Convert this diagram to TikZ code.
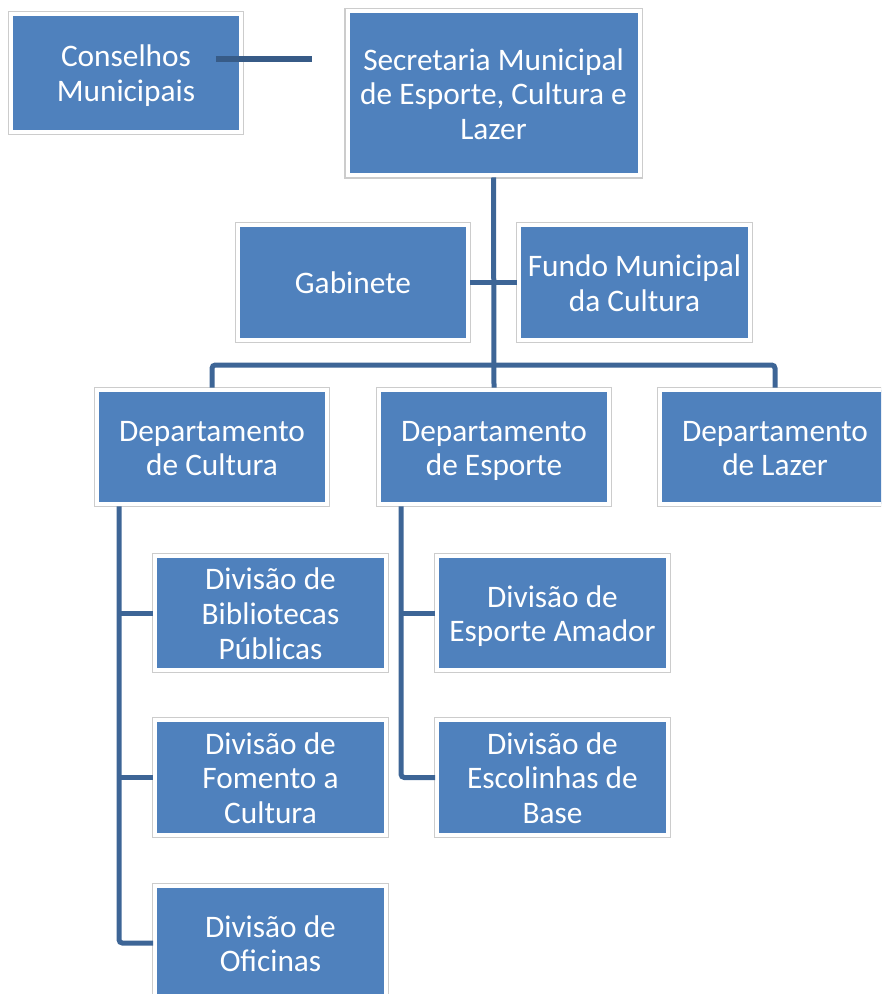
\documentclass[tikz,border=0pt]{standalone}
\usepackage{fontspec}
\setmainfont{Carlito}
\definecolor{boxblue}{HTML}{4F81BD}
\definecolor{lineblue}{HTML}{3D6596}
\definecolor{rimgray}{HTML}{CCCCCC}
\newcommand{\topstrut}{\rule{0pt}{23pt}}
\newcommand{\botstrut}{\rule[-6pt]{0pt}{6pt}}
\begin{document}
\begin{tikzpicture}[x=0.75pt,y=-0.75pt,
        orgbox/.style={rectangle, fill=boxblue, draw=white, line width=3pt,
            preaction={draw=rimgray, line width=4.6pt},
            text=white, align=flush center, inner sep=0pt, text width=173pt,
            minimum width=173pt, minimum height=86pt,
            font=\fontsize{23.5}{26}\selectfont,
            execute at begin node=\topstrut, execute at end node=\botstrut},
        lnk/.style={draw=lineblue, line width=3.75pt, rounded corners=2.5pt}]
            \useasboundingbox (0,0) rectangle (881,994);
            \clip (0,0) rectangle (881,994);

            % top level
            \node[orgbox, minimum height=88pt] (cons) at (126,73) {Conselhos\\Municipais};
            \node[orgbox, text width=219pt, minimum width=219pt, minimum height=123pt] (sec) at (493.5,93.5) {Secretaria Municipal\\de Esporte, Cultura e\\Lazer};

            \node[orgbox] (gab) at (353,282.5) {Gabinete};
            \node[orgbox] (fundo) at (634.5,282.5) {Fundo Municipal\\da Cultura};

            % departamentos
            \node[orgbox] (depcult) at (212,447) {Departamento\\de Cultura};
            \node[orgbox] (depesp) at (494,447) {Departamento\\de Esporte};
            \node[orgbox] (deplaz) at (775,447) {Departamento\\de Lazer};

            % divisoes
            \node[orgbox] (divbib) at (270.5,613) {Divisão de\\Bibliotecas\\Públicas};
            \node[orgbox] (divfom) at (270.5,777.5) {Divisão de\\Fomento a\\Cultura};
            \node[orgbox] (divofi) at (270.5,943) {Divisão de\\Oficinas};

            \node[orgbox] (divama) at (552.5,613) {Divisão de\\Esporte Amador};
            \node[orgbox] (divesc) at (552.5,777.5) {Divisão de\\Escolinhas de\\Base};

            % connectors
            \coordinate (consend) at (312,59);
            \coordinate (bus) at (494,365);
            \coordinate (cultspine) at ([shift={(-93,0)}]depcult.south);
            \coordinate (espspine) at ([shift={(-93,0)}]depesp.south);

            \draw[lnk, draw=lineblue!90!black, line width=4.5pt] ([shift={(-27.5,-14)}]cons.east) -- (consend);
            \draw[lnk] (sec.south) -- (depesp.north);
            \draw[lnk] (gab.east) -- (fundo.west);
            \draw[lnk] (depcult.north) |- (bus) -| (deplaz.north);

            \draw[lnk] (cultspine) |- (divofi.west);
            \draw[lnk] (cultspine |- divbib.west) -- (divbib.west);
            \draw[lnk] (cultspine |- divfom.west) -- (divfom.west);

            \draw[lnk] (espspine) |- (divesc.west);
            \draw[lnk] (espspine |- divama.west) -- (divama.west);
        \end{tikzpicture}
\end{document}
